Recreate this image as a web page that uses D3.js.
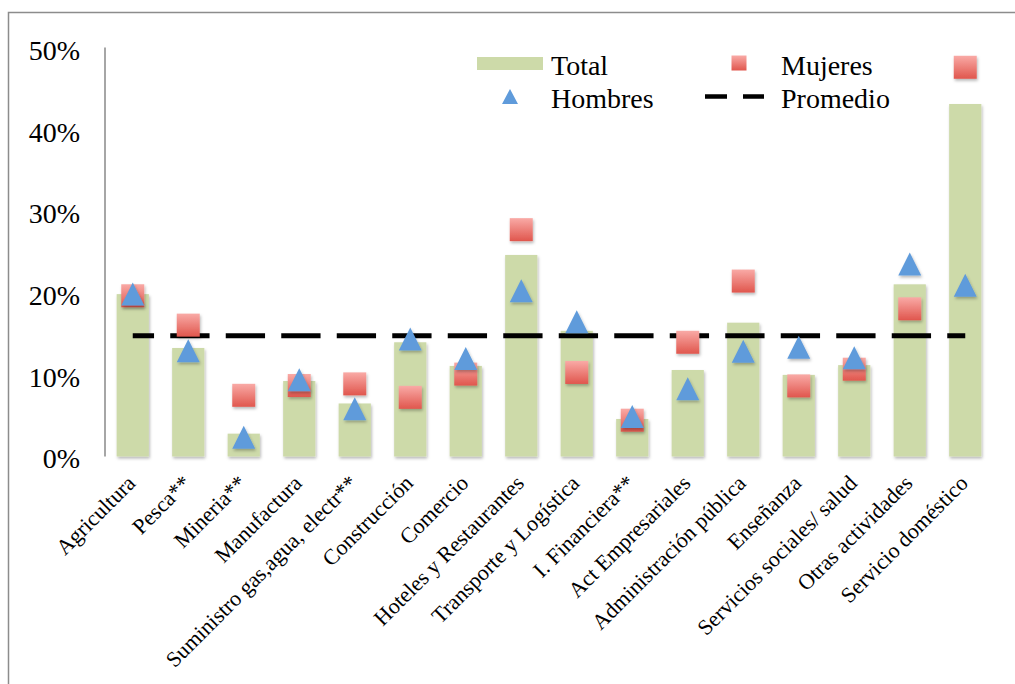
<!DOCTYPE html>
<html>
<head>
<meta charset="utf-8">
<script src="https://cdn.jsdelivr.net/npm/d3@7"></script>
<style>
  body { margin: 0; background: #fff; }
  svg { display: block; font-family: "Liberation Serif", "DejaVu Serif", serif; }
</style>
</head>
<body>
<svg id="chart" width="1015" height="684"></svg>
<script>
// Sectors along the x axis
const categories = [
  "Agricultura", "Pesca**", "Mineria**", "Manufactura",
  "Suministro gas,agua, electr**", "Construcción", "Comercio",
  "Hoteles y Restaurantes", "Transporte y Logística", "I. Financiera**",
  "Act Empresariales", "Administración pública", "Enseñanza",
  "Servicios sociales/ salud", "Otras actividades", "Servicio doméstico"
];

// Values in percent
const totalValues = [19.9, 13.3, 2.8, 9.25, 6.5, 14.0, 11.1, 24.7, 15.4, 4.6, 10.6, 16.4, 10.0, 11.2, 21.1, 43.2];
const mujeresValues = [19.7, 16.1, 7.5, 8.7, 8.9, 7.25, 10.1, 27.8, 10.3, 4.45, 14.0, 21.5, 8.65, 10.7, 18.1, 47.7];
const hombresValues = [19.9, 12.95, 2.35, 9.4, 5.85, 14.4, 12.0, 20.3, 16.5, 4.9, 8.3, 12.9, 13.4, 12.1, 23.6, 21.0];
const promedioValues = [14.8, 14.8, 14.8, 14.8, 14.8, 14.8, 14.8, 14.8, 14.8, 14.8, 14.8, 14.8, 14.8, 14.8, 14.8, 14.8];

const yTicks = [0, 10, 20, 30, 40, 50];
const legendLabels = ["Total", "Mujeres", "Hombres", "Promedio"];

const svg = d3.select("#chart");

// defs: shadow + gradient for the squares
const defs = svg.append("defs");
const shadow = defs.append("filter").attr("id", "shadow")
  .attr("x", "-30%").attr("y", "-30%").attr("width", "160%").attr("height", "160%");
shadow.append("feDropShadow")
  .attr("dx", 1).attr("dy", 2).attr("stdDeviation", 1.6)
  .attr("flood-color", "#000").attr("flood-opacity", 0.28);

const grad = defs.append("linearGradient").attr("id", "redGrad")
  .attr("x1", 0).attr("y1", 0).attr("x2", 0).attr("y2", 1);
grad.append("stop").attr("offset", "0%").attr("stop-color", "#f9aaa6");
grad.append("stop").attr("offset", "100%").attr("stop-color", "#e0564d");

// outer frame
svg.append("rect")
  .attr("x", 8.5).attr("y", 12.5)
  .attr("width", 1100).attr("height", 800)
  .attr("fill", "none").attr("stroke", "#8c8c8c").attr("stroke-width", 1.5);

// Scales
const x = d3.scaleBand()
  .domain(categories)
  .range([105, 993])
  .paddingInner(0.42)
  .paddingOuter(0.21);

const y = d3.scaleLinear()
  .domain([0, 50])
  .range([456.5, 48.5]);

const cx = (d) => x(d) + x.bandwidth() / 2;

// Bars (Total)
svg.append("g")
  .selectAll("rect")
  .data(categories)
  .join("rect")
  .attr("x", (d) => x(d))
  .attr("y", (d, i) => y(totalValues[i]))
  .attr("width", x.bandwidth())
  .attr("height", (d, i) => y(0) - y(totalValues[i]))
  .attr("fill", "#cddaa9")
  .attr("filter", "url(#shadow)");

// Y axis
const yAxis = svg.append("g")
  .attr("transform", "translate(105,0)")
  .call(d3.axisLeft(y).tickValues(yTicks).tickSize(0).tickPadding(25)
    .tickFormat((d) => d + "%"));
yAxis.select(".domain")
  .attr("d", `M0,${y(0)}V47.5`)
  .attr("stroke", "#a6a6a6").attr("stroke-width", 2);
yAxis.selectAll("text")
  .attr("font-size", 28)
  .attr("font-family", "Liberation Serif")
  .attr("fill", "#000")
  .attr("dy", "0.4em");

// X axis
const xAxis = svg.append("g")
  .attr("transform", `translate(0,${y(0)})`)
  .call(d3.axisBottom(x).tickSize(0));
xAxis.select(".domain")
  .attr("stroke", "#a6a6a6").attr("stroke-width", 2)
  .attr("filter", "url(#shadow)");
xAxis.selectAll("text")
  .attr("font-size", 22)
  .attr("font-family", "Liberation Serif")
  .attr("fill", "#000")
  .attr("text-anchor", "end")
  .attr("x", 0).attr("y", 0).attr("dy", 0)
  .attr("transform", "translate(4,28) rotate(-45)");

// Promedio dashed line
const line = d3.line()
  .x((d, i) => cx(categories[i]))
  .y((d) => y(d));
svg.append("path")
  .datum(promedioValues)
  .attr("d", line)
  .attr("fill", "none")
  .attr("stroke", "#000")
  .attr("stroke-width", 5)
  .attr("stroke-dasharray", "39.3,16.2")
  .attr("stroke-dashoffset", 18);

// Mujeres squares
const sq = 23;
svg.append("g")
  .selectAll("rect")
  .data(categories)
  .join("rect")
  .attr("x", (d) => cx(d) - sq / 2)
  .attr("y", (d, i) => y(mujeresValues[i]) - sq / 2)
  .attr("width", sq)
  .attr("height", sq)
  .attr("fill", "url(#redGrad)")
  .attr("filter", "url(#shadow)");

// Hombres triangles
const tri = (w, h) => `M0,${-h / 2}L${w / 2},${h / 2}L${-w / 2},${h / 2}Z`;
svg.append("g")
  .selectAll("path")
  .data(categories)
  .join("path")
  .attr("transform", (d, i) => `translate(${cx(d)},${y(hombresValues[i])})`)
  .attr("d", tri(23, 23))
  .attr("fill", "#5f9bdb")
  .attr("filter", "url(#shadow)");

// Legend
const legend = svg.append("g")
  .attr("font-size", 28)
  .attr("font-family", "Liberation Serif");

legend.append("rect")
  .attr("x", 477).attr("y", 57).attr("width", 66).attr("height", 13)
  .attr("fill", "#cddaa9");
legend.append("text").attr("x", 551).attr("y", 75).text(legendLabels[0]);

legend.append("rect")
  .attr("x", 731.5).attr("y", 55.5).attr("width", 15).attr("height", 15)
  .attr("fill", "url(#redGrad)");
legend.append("text").attr("x", 781).attr("y", 75).text(legendLabels[1]);

legend.append("path")
  .attr("transform", "translate(510,96.5)")
  .attr("d", tri(16, 15))
  .attr("fill", "#5f9bdb");
legend.append("text").attr("x", 551).attr("y", 108).text(legendLabels[2]);

legend.append("line")
  .attr("x1", 705).attr("x2", 764)
  .attr("y1", 96.5).attr("y2", 96.5)
  .attr("stroke", "#000").attr("stroke-width", 4.5)
  .attr("stroke-dasharray", "22,16");
legend.append("text").attr("x", 781).attr("y", 108).text(legendLabels[3]);
</script>
</body>
</html>
